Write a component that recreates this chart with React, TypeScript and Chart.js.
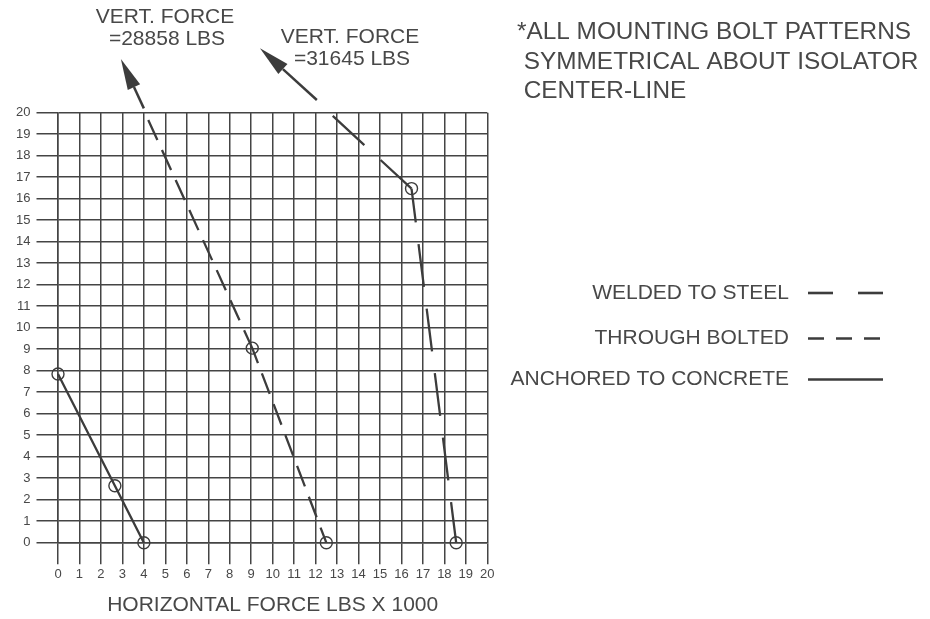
import React, { useEffect, useRef } from "react";
import { Chart, registerables } from "chart.js";

Chart.register(...registerables);

// ---- data ----
const xTickValues = Array.from({ length: 21 }, (_, i) => i);
const seriesNames = ["WELDED TO STEEL", "THROUGH BOLTED", "ANCHORED TO CONCRETE"];

// welded: listed from the top end down to the base point
const weldedX = [12.8, 16.47, 18.55];
const weldedY = [19.85, 16.47, 0];
const weldedMarker = [false, true, true];

// through bolted: listed from the base point up to the top end
const boltedX = [12.5, 9.05, 4.05];
const boltedY = [0, 9.05, 20];
const boltedMarker = [true, true, false];

const anchoredX = [4, 2.65, 0];
const anchoredY = [0, 2.65, 7.85];
const anchoredMarker = [true, true, true];

// force arrows (continuation of the bolted / welded lines above the grid)
const arrowTailX = [4.0, 12.06];
const arrowTailY = [20.2, 20.59];
const arrowTipX = [2.93, 9.41];
const arrowTipY = [22.5, 23.0];
const forceValues = ["28858", "31645"];

const noteLines = [
  "*ALL MOUNTING BOLT PATTERNS",
  " SYMMETRICAL ABOUT ISOLATOR",
  " CENTER-LINE",
];
const xTitle = "HORIZONTAL FORCE LBS X 1000";

// ---- style ----
const INK = "#3c3c3c";
const GRID = "#444444";
const TEXT = "#484848";
const FONT = "'Liberation Sans', Arial, Helvetica, sans-serif";

const seriesDash = [[43, 22], [22, 11], []];
// dash phase at the start of each segment (CAD restarts pattern per segment)
const segmentDashOffset = [[0, 9], [5.8, 2.3], [0, 0]];
const legendDash = [[25, 25], [16, 12], []];

function pts(xs: number[], ys: number[]) {
  return xs.map((v, i) => ({ x: v, y: ys[i] }));
}

const overlay = {
  id: "overlay",
  afterDatasetsDraw(chart: any) {
    const { ctx, scales } = chart;
    const sx = scales.x;
    const sy = scales.y;
    ctx.save();

    // arrows
    for (let i = 0; i < arrowTipX.length; i++) {
      const tx = sx.getPixelForValue(arrowTailX[i]);
      const ty = sy.getPixelForValue(arrowTailY[i]);
      const hx = sx.getPixelForValue(arrowTipX[i]);
      const hy = sy.getPixelForValue(arrowTipY[i]);
      const ang = Math.atan2(hy - ty, hx - tx);
      const L = 31;
      const W = 6.8;
      const bx = hx - L * Math.cos(ang);
      const by = hy - L * Math.sin(ang);
      ctx.strokeStyle = INK;
      ctx.lineWidth = 2.5;
      ctx.setLineDash([]);
      ctx.beginPath();
      ctx.moveTo(tx, ty);
      ctx.lineTo(bx, by);
      ctx.stroke();
      ctx.fillStyle = INK;
      ctx.beginPath();
      ctx.moveTo(hx, hy);
      ctx.lineTo(bx + W * Math.sin(ang), by - W * Math.cos(ang));
      ctx.lineTo(bx - W * Math.sin(ang), by + W * Math.cos(ang));
      ctx.closePath();
      ctx.fill();
    }

    ctx.fillStyle = TEXT;
    ctx.textBaseline = "middle";

    // force annotations
    ctx.font = `21px ${FONT}`;
    ctx.textAlign = "center";
    const annX = [165, 350];
    const annY = [17, 37.5];
    for (let i = 0; i < forceValues.length; i++) {
      ctx.fillText("VERT. FORCE", annX[i], annY[i]);
      ctx.fillText(`=${forceValues[i]} LBS`, annX[i] + 2, annY[i] + 22);
    }

    // note (stretched slightly to the reference width)
    ctx.font = `23px ${FONT}`;
    ctx.textAlign = "left";
    const stretch = 394 / ctx.measureText(noteLines[0]).width;
    noteLines.forEach((t, i) => {
      ctx.save();
      ctx.translate(517, 33 + i * 29.5);
      ctx.scale(stretch, 1);
      ctx.fillText(t, 0, 0);
      ctx.restore();
    });

    // x title
    ctx.font = `21px ${FONT}`;
    ctx.textAlign = "center";
    const ca = chart.chartArea;
    ctx.fillText(xTitle, (ca.left + ca.right) / 2, 605);

    // legend
    const legY = [293, 338.5, 379.5];
    chart.data.datasets.forEach((ds: any, i: number) => {
      ctx.font = `21px ${FONT}`;
      ctx.textAlign = "right";
      ctx.fillStyle = TEXT;
      ctx.fillText(ds.label, 789, legY[i]);
      ctx.strokeStyle = INK;
      ctx.lineWidth = 2.6;
      ctx.setLineDash(legendDash[i]);
      ctx.beginPath();
      ctx.moveTo(808, legY[i]);
      ctx.lineTo(883, legY[i]);
      ctx.stroke();
    });

    ctx.restore();
  },
};

export default function App() {
  const ref = useRef<HTMLCanvasElement | null>(null);

  useEffect(() => {
    if (!ref.current) return;
    const mk = (label: string, xs: number[], ys: number[], marks: boolean[], i: number) => ({
      label,
      data: pts(xs, ys),
      showLine: true,
      borderColor: INK,
      borderWidth: 2.3,
      borderDash: seriesDash[i],
      segment: {
        borderDash: () => seriesDash[i],
        borderDashOffset: (c: any) => segmentDashOffset[i][c.p0DataIndex] ?? 0,
      },
      pointRadius: marks.map((m) => (m ? 6 : 0)),
      pointBorderWidth: 1.4,
      pointBorderColor: INK,
      pointBackgroundColor: "rgba(0,0,0,0)",
      pointHoverRadius: 0,
      clip: false as any,
    });

    const chart = new Chart(ref.current, {
      type: "scatter",
      data: {
        datasets: [
          mk(seriesNames[0], weldedX, weldedY, weldedMarker, 0),
          mk(seriesNames[1], boltedX, boltedY, boltedMarker, 1),
          mk(seriesNames[2], anchoredX, anchoredY, anchoredMarker, 2),
        ],
      },
      options: {
        responsive: false,
        animation: false,
        events: [],
        layout: { padding: { left: 0, top: 112.7, right: 442.7, bottom: 0 } },
        plugins: {
          legend: { display: false },
          tooltip: { enabled: false },
          title: { display: false },
        },
        scales: {
          x: {
            type: "linear",
            min: 0,
            max: 20,
            afterBuildTicks: (scale: any) => {
              scale.ticks = xTickValues.map((v) => ({ value: v }));
            },
            afterFit: (scale: any) => {
              scale.height = 619 - 542.7;
            },
            grid: {
              color: GRID,
              lineWidth: 1.5,
              tickLength: 21.5,
              drawTicks: true,
            },
            border: { display: true, color: GRID, width: 1.5 },
            ticks: {
              autoSkip: false,
              maxRotation: 0,
              padding: 2,
              color: TEXT,
              font: { family: FONT, size: 13 },
            },
          },
          y: {
            type: "linear",
            min: 0,
            max: 20,
            afterBuildTicks: (scale: any) => {
              scale.ticks = xTickValues.map((v) => ({ value: v }));
            },
            afterFit: (scale: any) => {
              scale.width = 58;
            },
            grid: {
              color: GRID,
              lineWidth: 1.5,
              tickLength: 21.5,
              drawTicks: true,
            },
            border: { display: true, color: GRID, width: 1.5 },
            ticks: {
              autoSkip: false,
              padding: 6,
              color: TEXT,
              font: { family: FONT, size: 13 },
            },
          },
        },
      },
      plugins: [overlay],
    });
    return () => chart.destroy();
  }, []);

  return (
    <div style={{ position: "absolute", left: 0, top: 0, width: 930, height: 619, background: "#fff" }}>
      <canvas ref={ref} width={930} height={619} style={{ display: "block" }} />
    </div>
  );
}
